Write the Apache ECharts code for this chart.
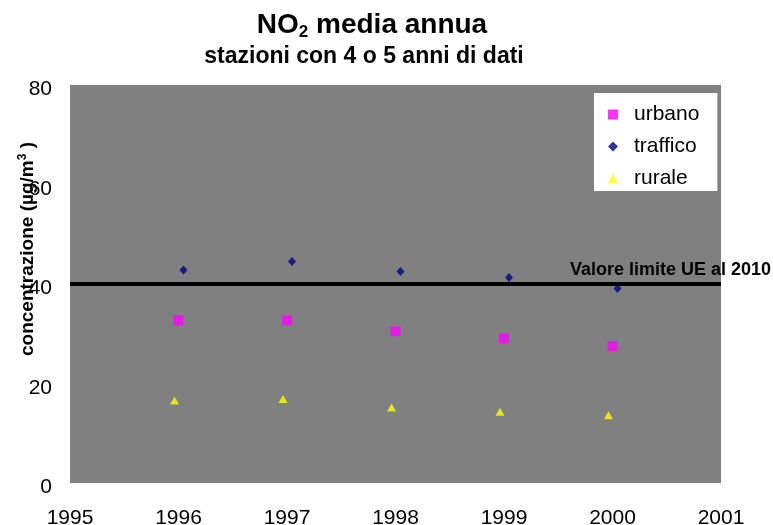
<!DOCTYPE html>
<html>
<head>
<meta charset="utf-8">
<script src="https://cdn.jsdelivr.net/npm/echarts@6/dist/echarts.min.js"></script>
<style>
  html, body { margin: 0; padding: 0; background: #ffffff; }
  #chart { width: 773px; height: 525px; }
</style>
</head>
<body>
<div id="chart"></div>
<script>
// Annual mean NO2 by station type (µg/m³)
const years = [1996, 1997, 1998, 1999, 2000];
const urbano = [32.7, 32.7, 30.5, 29.1, 27.5];
const traffico = [42.8, 44.5, 42.5, 41.3, 39.1];
const rurale = [16.6, 16.9, 15.2, 14.3, 13.6];
const limiteUE = 40;
const limiteLabel = 'Valore limite UE al 2010';
const xRange = [1995, 2001];
const yRange = [0, 80];
const yStep = 20;

const FONT = '"Liberation Sans", Arial, sans-serif';

function pairs(values) {
  return years.map((y, i) => [y, values[i]]);
}

const chart = echarts.init(document.getElementById('chart'), null, { renderer: 'canvas' });

const option = {
  animation: false,
  backgroundColor: '#ffffff',
  textStyle: { fontFamily: FONT },
  grid: {
    left: 70, right: 52, top: 85, bottom: 42,
    outerBoundsMode: 'none',
    containLabel: false,
    show: true, backgroundColor: '#808080', borderWidth: 0
  },
  legend: {
    orient: 'vertical',
    left: 594, top: 93,
    backgroundColor: '#ffffff',
    padding: [11, 18, 2, 14],
    itemGap: 11,
    itemWidth: 10, itemHeight: 10,
    textStyle: { fontFamily: FONT, fontSize: 21, color: '#000', padding: [0, 0, 0, 11] },
    data: [
      { name: 'urbano', icon: 'rect' },
      { name: 'traffico', icon: 'diamond' },
      { name: 'rurale', icon: 'triangle' }
    ]
  },
  xAxis: {
    type: 'value',
    min: xRange[0], max: xRange[1], interval: 1,
    axisLine: { show: false }, axisTick: { show: false }, splitLine: { show: false },
    axisLabel: {
      fontFamily: FONT, fontSize: 21, color: '#000', margin: 25,
      formatter: v => String(v)
    }
  },
  yAxis: {
    type: 'value',
    min: yRange[0], max: yRange[1], interval: yStep,
    axisLine: { show: false }, axisTick: { show: false }, splitLine: { show: false },
    axisLabel: {
      color: '#000', margin: 18,
      formatter: v => '{v|' + v + '}',
      rich: {
        v: { fontFamily: FONT, fontSize: 21, color: '#000', padding: [9, 0, 0, 0] }
      }
    },
    name: '{n|concentrazione (µg/m}{sup|3}{n| )}',
    nameLocation: 'middle',
    nameRotate: 90,
    nameGap: 31,
    nameMoveOverlap: false,
    nameTextStyle: {
      padding: [0, 0, 0, 70],
      rich: {
        n: { fontFamily: FONT, fontSize: 19, fontWeight: 'bold', color: '#000', lineHeight: 22 },
        sup: { fontFamily: FONT, fontSize: 12, fontWeight: 'bold', color: '#000', verticalAlign: 'top', lineHeight: 22 }
      }
    }
  },
  series: [
    {
      name: 'urbano', type: 'scatter',
      symbol: 'rect', symbolSize: [10, 10],
      itemStyle: { color: '#FF00FF' },
      data: pairs(urbano),
      markLine: {
        silent: true,
        symbol: ['none', 'none'],
        label: { show: false },
        lineStyle: { color: '#000000', width: 4, type: 'solid' },
        data: [{ yAxis: limiteUE }]
      }
    },
    {
      name: 'traffico', type: 'scatter',
      symbol: 'diamond', symbolSize: [8, 9], symbolOffset: [5, 0],
      itemStyle: { color: '#000080' },
      data: pairs(traffico)
    },
    {
      name: 'rurale', type: 'scatter',
      symbol: 'triangle', symbolSize: [9, 8], symbolOffset: [-4, 0],
      itemStyle: { color: '#FFFF00' },
      data: pairs(rurale)
    }
  ]
};

chart.setOption(option);

// Titles and the limit-line caption, placed from the axis scale
const limitPx = chart.convertToPixel({ gridIndex: 0 }, [xRange[1], limiteUE]);
chart.setOption({
  graphic: [
    {
      type: 'text', x: 372, y: 26,
      style: {
        text: '{a|NO}{s|2}{a| media annua}',
        align: 'center', verticalAlign: 'middle',
        rich: {
          a: { fontFamily: FONT, fontSize: 28, fontWeight: 'bold', fill: '#000', lineHeight: 30, verticalAlign: 'top' },
          s: { fontFamily: FONT, fontSize: 17, fontWeight: 'bold', fill: '#000', lineHeight: 13, verticalAlign: 'bottom' }
        }
      }
    },
    {
      type: 'text', x: 364, y: 57,
      style: {
        text: 'stazioni con 4 o 5 anni di dati',
        align: 'center', verticalAlign: 'middle',
        font: 'bold 23px ' + FONT, fill: '#000'
      }
    },
    {
      type: 'text', x: 570, y: limitPx[1] - 14,
      style: {
        text: limiteLabel,
        align: 'left', verticalAlign: 'middle',
        font: 'bold 18px ' + FONT, fill: '#000'
      }
    }
  ]
});
</script>
</body>
</html>
